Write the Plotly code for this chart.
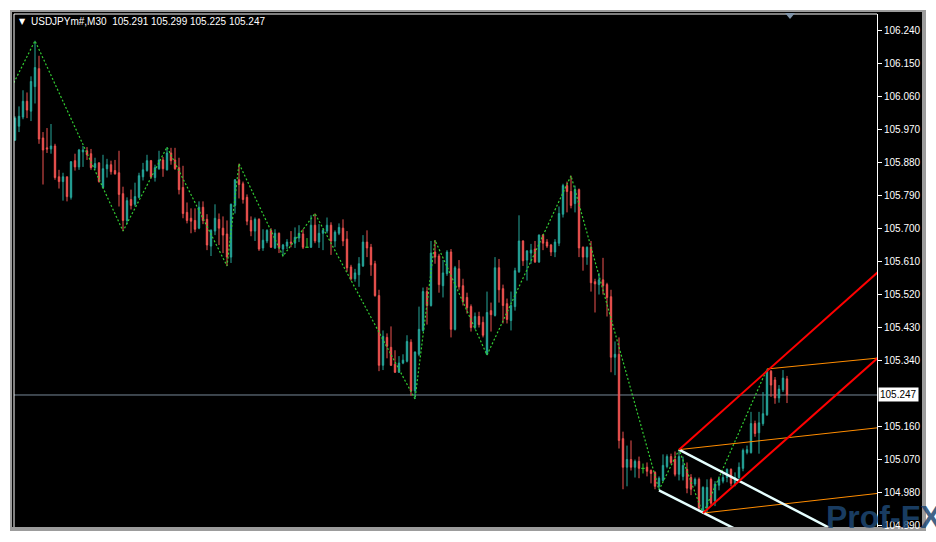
import plotly.graph_objects as go

# ---------------- data (USDJPYm#, M30) ----------------
opens = [
105.942, 105.980, 106.005, 106.048, 106.021, 106.088, 106.137, 105.948, 105.921, 105.918,
105.926, 105.842, 105.829, 105.842, 105.786, 105.886, 105.869, 105.910, 105.913, 105.905,
105.867, 105.880, 105.813, 105.864, 105.875, 105.859, 105.853, 105.796, 105.723, 105.780,
105.767, 105.786, 105.842, 105.859, 105.886, 105.840, 105.864, 105.888, 105.861, 105.907,
105.888, 105.867, 105.813, 105.745, 105.729, 105.723, 105.702, 105.759, 105.726, 105.653,
105.694, 105.726, 105.702, 105.686, 105.623, 105.764, 105.834, 105.823, 105.786, 105.723,
105.694, 105.726, 105.648, 105.667, 105.696, 105.648, 105.688, 105.645, 105.653, 105.664,
105.661, 105.675, 105.686, 105.650, 105.650, 105.710, 105.664, 105.688, 105.694, 105.710,
105.667, 105.688, 105.702, 105.672, 105.596, 105.564, 105.575, 105.599, 105.664, 105.650,
105.605, 105.518, 105.328, 105.404, 105.377, 105.331, 105.309, 105.334, 105.339, 105.391,
105.258, 105.358, 105.423, 105.529, 105.491, 105.637, 105.626, 105.545, 105.578, 105.637,
105.426, 105.591, 105.545, 105.513, 105.488, 105.431, 105.461, 105.445, 105.358, 105.477,
105.464, 105.594, 105.537, 105.496, 105.450, 105.488, 105.583, 105.667, 105.615, 105.634,
105.645, 105.610, 105.683, 105.664, 105.656, 105.637, 105.661, 105.740, 105.818, 105.802,
105.769, 105.807, 105.650, 105.623, 105.650, 105.556, 105.548, 105.561, 105.548, 105.515,
105.350, 105.358, 105.128, 105.050, 105.071, 105.050, 105.066, 105.047, 105.050, 105.041,
105.036, 104.998, 105.014, 105.052, 105.079, 105.071, 105.031, 105.025, 105.044, 105.022,
105.004, 105.017, 104.925, 104.939, 105.017, 104.958, 105.001, 105.012, 105.022, 105.044,
105.006, 105.022, 105.047, 105.090, 105.090, 105.169, 105.144, 105.169, 105.193, 105.312,
105.288, 105.239, 105.261, 105.291]

highs = [
106.007, 106.034, 106.078, 106.072, 106.116, 106.213, 106.172, 105.964, 105.975, 105.986,
105.932, 105.861, 105.853, 105.842, 105.885, 105.905, 105.918, 105.926, 105.923, 105.918,
105.894, 105.882, 105.902, 105.891, 105.886, 105.888, 105.913, 105.815, 105.786, 105.807,
105.826, 105.853, 105.880, 105.902, 105.888, 105.875, 105.913, 105.896, 105.923, 105.921,
105.921, 105.894, 105.872, 105.772, 105.756, 105.756, 105.775, 105.775, 105.740, 105.699,
105.767, 105.742, 105.734, 105.723, 105.769, 105.836, 105.878, 105.829, 105.794, 105.734,
105.731, 105.729, 105.699, 105.699, 105.702, 105.699, 105.690, 105.659, 105.672, 105.694,
105.704, 105.710, 105.699, 105.675, 105.737, 105.742, 105.713, 105.702, 105.731, 105.718,
105.696, 105.715, 105.726, 105.694, 105.602, 105.591, 105.623, 105.683, 105.696, 105.659,
105.613, 105.534, 105.423, 105.415, 105.434, 105.369, 105.353, 105.358, 105.410, 105.399,
105.366, 105.488, 105.540, 105.542, 105.667, 105.669, 105.632, 105.615, 105.642, 105.645,
105.599, 105.615, 105.564, 105.526, 105.494, 105.472, 105.474, 105.461, 105.529, 105.499,
105.623, 105.618, 105.548, 105.510, 105.529, 105.594, 105.737, 105.669, 105.642, 105.659,
105.667, 105.685, 105.686, 105.672, 105.659, 105.672, 105.761, 105.823, 105.829, 105.845,
105.818, 105.810, 105.652, 105.652, 105.667, 105.564, 105.580, 105.621, 105.553, 105.534,
105.393, 105.404, 105.147, 105.109, 105.123, 105.071, 105.079, 105.060, 105.063, 105.044,
105.039, 105.025, 105.085, 105.085, 105.087, 105.093, 105.098, 105.079, 105.063, 105.031,
105.022, 105.022, 104.998, 105.017, 105.022, 105.012, 105.025, 105.033, 105.047, 105.047,
105.036, 105.063, 105.101, 105.109, 105.201, 105.177, 105.201, 105.255, 105.318, 105.315,
105.296, 105.274, 105.315, 105.299]

lows = [
105.940, 105.964, 105.999, 106.002, 105.994, 106.042, 105.932, 105.821, 105.907, 105.905,
105.834, 105.810, 105.777, 105.775, 105.780, 105.859, 105.861, 105.869, 105.888, 105.861,
105.861, 105.826, 105.810, 105.840, 105.848, 105.848, 105.761, 105.694, 105.713, 105.753,
105.761, 105.783, 105.832, 105.856, 105.837, 105.829, 105.861, 105.842, 105.859, 105.875,
105.861, 105.794, 105.729, 105.715, 105.688, 105.691, 105.699, 105.713, 105.642, 105.626,
105.683, 105.656, 105.634, 105.599, 105.607, 105.742, 105.783, 105.769, 105.710, 105.680,
105.667, 105.640, 105.640, 105.661, 105.648, 105.645, 105.634, 105.626, 105.645, 105.650,
105.648, 105.664, 105.645, 105.648, 105.648, 105.661, 105.648, 105.642, 105.688, 105.629,
105.650, 105.683, 105.653, 105.583, 105.559, 105.556, 105.542, 105.596, 105.623, 105.572,
105.515, 105.312, 105.315, 105.347, 105.326, 105.307, 105.307, 105.331, 105.336, 105.245,
105.236, 105.353, 105.420, 105.439, 105.488, 105.605, 105.526, 105.513, 105.572, 105.404,
105.423, 105.534, 105.491, 105.469, 105.420, 105.426, 105.431, 105.404, 105.356, 105.420,
105.461, 105.499, 105.442, 105.442, 105.423, 105.477, 105.580, 105.599, 105.559, 105.605,
105.607, 105.607, 105.642, 105.648, 105.626, 105.623, 105.653, 105.731, 105.745, 105.756,
105.745, 105.623, 105.586, 105.602, 105.529, 105.472, 105.521, 105.521, 105.461, 105.309,
105.301, 105.101, 104.990, 104.998, 105.041, 105.022, 105.020, 105.033, 105.025, 105.006,
104.990, 104.988, 105.012, 105.047, 105.058, 105.025, 105.014, 105.014, 104.979, 104.974,
104.998, 104.931, 104.923, 104.928, 104.944, 104.944, 104.987, 105.006, 105.009, 104.998,
104.998, 105.017, 105.039, 105.085, 105.087, 105.133, 105.087, 105.163, 105.190, 105.242,
105.223, 105.226, 105.255, 105.225]

closes = [
106.002, 106.007, 106.048, 106.024, 106.102, 106.140, 105.945, 105.915, 105.918, 105.926,
105.840, 105.829, 105.842, 105.788, 105.883, 105.869, 105.915, 105.915, 105.902, 105.867,
105.878, 105.829, 105.864, 105.875, 105.856, 105.850, 105.794, 105.723, 105.777, 105.764,
105.788, 105.845, 105.861, 105.886, 105.842, 105.867, 105.888, 105.864, 105.907, 105.886,
105.864, 105.807, 105.742, 105.723, 105.721, 105.699, 105.759, 105.723, 105.656, 105.696,
105.729, 105.702, 105.683, 105.623, 105.767, 105.834, 105.821, 105.780, 105.721, 105.694,
105.726, 105.645, 105.669, 105.696, 105.650, 105.688, 105.648, 105.656, 105.664, 105.661,
105.677, 105.688, 105.650, 105.650, 105.710, 105.667, 105.688, 105.696, 105.710, 105.667,
105.691, 105.704, 105.667, 105.594, 105.564, 105.580, 105.605, 105.664, 105.648, 105.602,
105.518, 105.328, 105.407, 105.380, 105.328, 105.309, 105.334, 105.342, 105.393, 105.258,
105.364, 105.426, 105.529, 105.491, 105.634, 105.623, 105.548, 105.580, 105.637, 105.426,
105.594, 105.542, 105.502, 105.485, 105.431, 105.461, 105.439, 105.410, 105.472, 105.466,
105.594, 105.534, 105.491, 105.453, 105.491, 105.586, 105.667, 105.613, 105.640, 105.642,
105.610, 105.683, 105.661, 105.653, 105.637, 105.664, 105.742, 105.818, 105.802, 105.764,
105.807, 105.648, 105.623, 105.650, 105.553, 105.550, 105.561, 105.545, 105.513, 105.350,
105.358, 105.123, 105.050, 105.071, 105.050, 105.066, 105.047, 105.047, 105.039, 105.033,
104.998, 105.020, 105.055, 105.079, 105.063, 105.031, 105.079, 105.055, 104.993, 104.990,
105.017, 104.939, 104.995, 104.995, 104.952, 105.004, 105.017, 105.022, 105.044, 105.006,
105.022, 105.050, 105.096, 105.098, 105.169, 105.142, 105.171, 105.196, 105.312, 105.274,
105.239, 105.263, 105.293, 105.247]

# ZigZag vertices (bar index, price)
zz_idx = [-3, 5, 27, 38, 53, 56, 67, 75, 100, 105, 118, 139, 161, 166, 172, 188]
zz_px = [106.040, 106.213, 105.694, 105.923, 105.599, 105.878, 105.626, 105.742,
         105.236, 105.669, 105.356, 105.845, 104.988, 105.098, 104.923, 105.318]

# Drawn objects: (start idx, start price, end idx, end price)
red_lines = [(166, 105.098, 216, 105.585), (172, 104.925, 216, 105.351)]
orange_lines = [(188, 105.318, 216, 105.348), (166, 105.098, 216, 105.158),
                (172, 104.925, 216, 104.979)]
white_lines = [(166, 105.098, 206, 104.871), (161, 104.987, 180, 104.882)]

y_ticks = [106.240, 106.150, 106.060, 105.970, 105.880, 105.790, 105.700, 105.610,
           105.520, 105.430, 105.340, 105.160, 105.070, 104.980, 104.890]
bid_price = 105.247
symbol = "USDJPYm#,M30"
ohlc_last = ["105.291", "105.299", "105.225", "105.247"]

# ---------------- styling ----------------
TEAL = "#26a69a"
RED = "#ef5350"
ZZ = "#32cd32"
FONT = "Liberation Sans, Arial, sans-serif"

W, H = 936, 542
ML, MR, MT, MB = 14, 59, 14, 11
PW, PH = W - ML - MR, H - MT - MB


def pxx(px):
    return (px - ML) / PW


def pxy(py):
    return (H - MB - py) / PH


idx = list(range(len(opens)))
nd = [i for i in idx if opens[i] != closes[i]]
dj = [i for i in idx if opens[i] == closes[i]]

fig = go.Figure()

fig.add_trace(go.Candlestick(
    x=nd,
    open=[opens[i] for i in nd], high=[highs[i] for i in nd],
    low=[lows[i] for i in nd], close=[closes[i] for i in nd],
    increasing=dict(line=dict(color=TEAL, width=1), fillcolor=TEAL),
    decreasing=dict(line=dict(color=RED, width=1), fillcolor=RED),
    whiskerwidth=0, hoverinfo="skip", showlegend=False))

# doji candles drawn as green crosses
dx, dy = [], []
for i in dj:
    dx += [i, i, None, i - 0.45, i + 0.45, None]
    dy += [lows[i], highs[i], None, opens[i], opens[i], None]
fig.add_trace(go.Scatter(x=dx, y=dy, mode="lines", line=dict(color=ZZ, width=1),
                         hoverinfo="skip", showlegend=False))

# zigzag
fig.add_trace(go.Scatter(x=zz_idx, y=zz_px, mode="lines",
                         line=dict(color=ZZ, width=1.2, dash="2px,2px"),
                         hoverinfo="skip", showlegend=False))


def add_lines(lines, color, width):
    xs, ys = [], []
    for (i0, p0, i1, p1) in lines:
        xs += [i0, i1, None]
        ys += [p0, p1, None]
    fig.add_trace(go.Scatter(x=xs, y=ys, mode="lines", line=dict(color=color, width=width),
                             hoverinfo="skip", showlegend=False))


add_lines(orange_lines, "#ff8c00", 1)
add_lines(white_lines, "#e6ffff", 2.5)
add_lines(red_lines, "#ff0000", 2)

shapes = [
    # window frame
    dict(type="rect", xref="paper", yref="paper", x0=pxx(10), x1=pxx(926), y0=pxy(535), y1=pxy(10),
         fillcolor="#9c9c9c", line=dict(width=0), layer="below"),
    dict(type="rect", xref="paper", yref="paper", x0=pxx(12), x1=pxx(922), y0=pxy(531), y1=pxy(12),
         fillcolor="black", line=dict(width=0), layer="below"),
    # bid line
    dict(type="line", xref="paper", yref="y", x0=0, x1=1, y0=bid_price, y1=bid_price,
         line=dict(color="#778899", width=1), layer="below"),
    # plot border (left / top)
    dict(type="line", xref="paper", yref="paper", x0=0, x1=1, y0=1, y1=1,
         line=dict(color="white", width=1)),
    dict(type="line", xref="paper", yref="paper", x0=0, x1=0, y0=0, y1=1,
         line=dict(color="white", width=1)),
    # chart shift marker
    dict(type="path", xref="paper", yref="paper",
         path=f"M {pxx(785)} {pxy(13)} L {pxx(795)} {pxy(13)} L {pxx(790)} {pxy(19)} Z",
         fillcolor="#7f93a8", line=dict(width=0)),
]

annotations = [
    dict(xref="paper", yref="paper", x=pxx(17), y=pxy(22), xanchor="left", yanchor="middle",
         text="▼", showarrow=False, font=dict(color="white", size=8, family="DejaVu Sans")),
    dict(xref="paper", yref="paper", x=pxx(29), y=pxy(22), xanchor="left", yanchor="middle",
         text=symbol + "\u00a0\u00a0" + " ".join(ohlc_last), showarrow=False,
         font=dict(color="white", size=10, family=FONT)),
    dict(xref="paper", yref="y", x=1, y=bid_price, xanchor="left", yanchor="middle", xshift=1,
         text=f"{bid_price:.3f}", showarrow=False, bgcolor="white", borderpad=1,
         font=dict(color="black", size=10, family=FONT)),
    dict(xref="paper", yref="paper", x=pxx(824), y=pxy(521), xanchor="left", yanchor="middle",
         text="<b>Prof-FX</b>", showarrow=False,
         font=dict(color="rgba(30,72,115,0.85)", size=32, family=FONT)),
]

fig.update_layout(
    width=W, height=H,
    margin=dict(l=ML, r=MR, t=MT, b=MB, pad=0),
    paper_bgcolor="white", plot_bgcolor="black",
    boxgap=0.5,
    showlegend=False,
    shapes=shapes, annotations=annotations,
    xaxis=dict(range=[-0.25, 215.5], visible=False, rangeslider=dict(visible=False),
               showgrid=False, zeroline=False),
    yaxis=dict(range=[104.887, 106.286], side="right", tickvals=y_ticks,
               tickformat=".3f", ticks="outside", ticklen=4, tickcolor="white",
               tickfont=dict(color="white", size=10, family=FONT),
               showgrid=False, zeroline=False, showline=True, linecolor="white",
               linewidth=1),
)

fig.write_html("out.html", config={"displayModeBar": False},
               post_script="document.body.style.margin='0';document.body.style.overflow='hidden';")
